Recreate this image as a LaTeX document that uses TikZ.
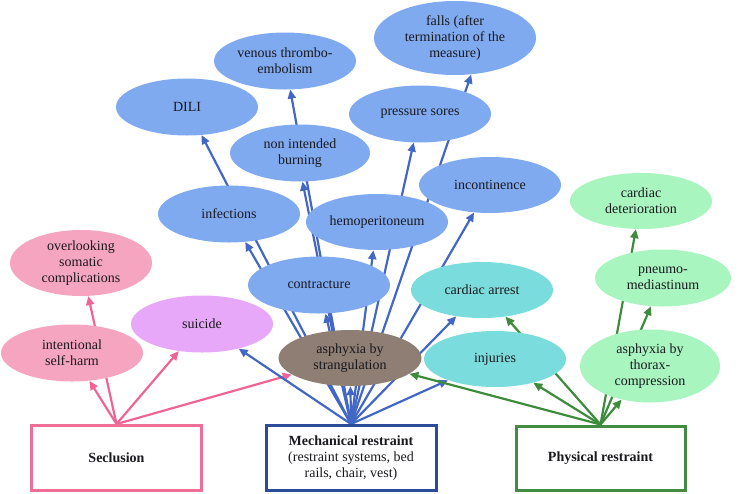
\documentclass[tikz,border=0pt]{standalone}
\usepackage{fontspec}
\setmainfont{Liberation Serif}
\usetikzlibrary{arrows.meta,backgrounds,shapes.geometric}
\definecolor{blueFill}{RGB}{128,170,240}
\definecolor{blueLine}{RGB}{66,103,196}
\definecolor{mechBorder}{RGB}{45,75,155}
\definecolor{pinkFill}{RGB}{245,165,192}
\definecolor{pinkLine}{RGB}{240,100,148}
\definecolor{secBorder}{RGB}{238,110,150}
\definecolor{suicideFill}{RGB}{232,168,250}
\definecolor{cyanFill}{RGB}{122,220,220}
\definecolor{greenFill}{RGB}{168,245,192}
\definecolor{greenLine}{RGB}{60,140,60}
\definecolor{physBorder}{RGB}{65,140,65}
\definecolor{brownFill}{RGB}{143,126,116}
\definecolor{txt}{RGB}{25,25,30}
\tikzset{
  ell/.style={ellipse,inner sep=0pt,align=center,text=txt,
    font=\fontsize{14}{16}\selectfont},
  bl/.style={ell,fill=blueFill},
  pk/.style={ell,fill=pinkFill},
  cy/.style={ell,fill=cyanFill},
  gr/.style={ell,fill=greenFill},
  sz/.style n args={2}{minimum width=#1pt,minimum height=#2pt},
  box/.style={rectangle,fill=white,line width=3pt,align=center,text=txt,
    font=\fontsize{14}{16}\selectfont,minimum width=170pt,minimum height=65pt},
  tip/.style={-{Triangle[length=9pt,width=8pt]},line width=2.2pt},
  barr/.style={tip,draw=blueLine,fill=blueLine},
  parr/.style={tip,draw=pinkLine,fill=pinkLine},
  garr/.style={tip,draw=greenLine,fill=greenLine},
}
\begin{document}
\begin{tikzpicture}[x=1pt,y=-1pt]
\useasboundingbox (0,0) rectangle (738,493);
% ellipses
\node[bl,sz={142}{57}] (venous) at (285,61) {venous thrombo-\\embolism};
\node[bl,sz={142}{57}] (dili) at (187,107) {DILI};
\node[bl,sz={140}{57}] (burning) at (300,153) {non intended\\burning};
\node[bl,sz={142}{57}] (infect) at (229,214) {infections};
\node[bl,sz={162}{74}] (falls) at (455,38) {falls (after\\termination of the\\measure)};
\node[bl,sz={142}{57}] (sores) at (420,114) {pressure sores};
\node[bl,sz={142}{56}] (incont) at (490,185) {incontinence};
\node[bl,sz={142}{56}] (hemo) at (377,222) {hemoperitoneum};
\node[bl,sz={142}{57}] (contract) at (319,285) {contracture};
\node[cy,sz={142}{56}] (carrest) at (482,290) {cardiac arrest};
\node[gr,sz={142}{56}] (cdet) at (641,201) {cardiac\\deterioration};
\node[gr,sz={136}{57}] (pneumo) at (663,278) {pneumo-\\mediastinum};
\node[gr,sz={140}{73}] (thorax) at (650,366) {asphyxia by\\thorax-\\compression};
\node[cy,sz={142}{56}] (injuries) at (495,359) {injuries};
\node[ell,fill=brownFill,sz={143}{56}] (strang) at (350,358) {asphyxia by\\strangulation};
\node[ell,fill=suicideFill,sz={142}{57}] (suicide) at (202,324) {suicide};
\node[pk,sz={142}{57}] (harm) at (72,353) {intentional\\self-harm};
\node[pk,sz={142}{66}] (overlook) at (81,263) {overlooking\\somatic\\complications};
% boxes
\node[box,draw=secBorder] (sec) at (116.5,458) {\textbf{Seclusion}};
\node[box,draw=mechBorder] (mech) at (351,458) {\textbf{Mechanical restraint}\\(restraint systems, bed\\rails, chair, vest)};
\node[box,draw=physBorder,minimum height=64pt,minimum width=169pt] (phys) at (600.5,458) {\textbf{Physical restraint}};
% connectors
\begin{scope}[on background layer]
\draw[parr] (sec.north) -- (harm);
\draw[parr] (sec.north) -- (overlook);
\draw[parr] (sec.north) -- (suicide);
\draw[parr] (sec.north) -- (strang);
\draw[barr] (mech.north) -- (dili);
\draw[barr] (mech.north) -- (venous);
\draw[barr] (mech.north) -- (burning.-85);
\draw[barr] (mech.north) -- (infect);
\draw[barr] (mech.north) -- (falls.-66);
\draw[barr] (mech.north) -- (sores);
\draw[barr] (mech.north) -- (incont);
\draw[barr] (mech.north) -- (hemo);
\draw[barr] (mech.north) -- (contract);
\draw[barr] (mech.north) -- (carrest);
\draw[barr] (mech.north) -- (injuries);
\draw[barr] (mech.north) -- (suicide);
\draw[barr] (mech.north) -- (strang);
\draw[garr] (phys.north) -- (strang);
\draw[garr] (phys.north) -- (injuries);
\draw[garr] (phys.north) -- (carrest);
\draw[garr] (phys.north) -- (thorax);
\draw[garr] (phys.north) -- (pneumo);
\draw[garr] (phys.north) -- (cdet);
\end{scope}
\end{tikzpicture}
\end{document}
